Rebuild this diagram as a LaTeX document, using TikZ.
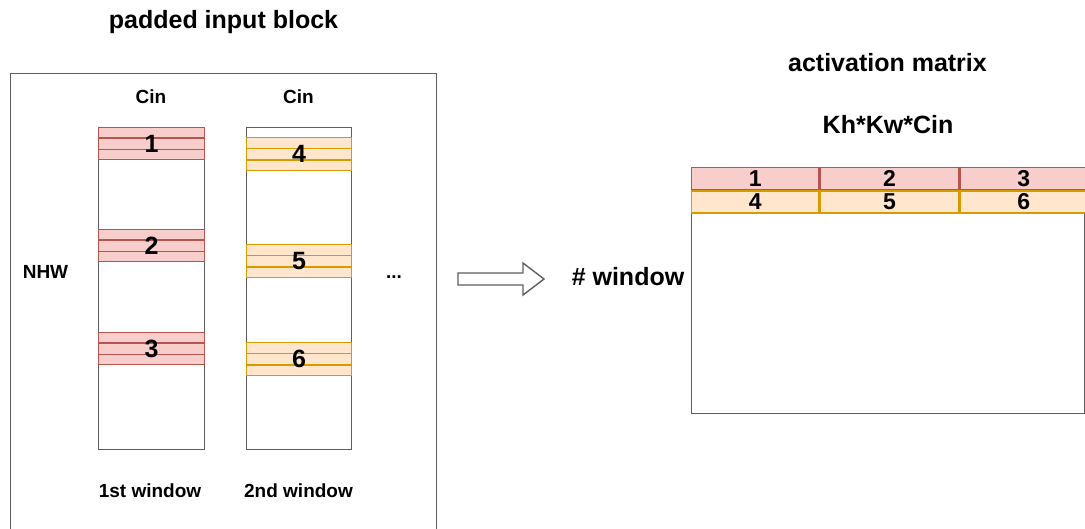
\documentclass[tikz,border=0pt]{standalone}
\usepackage{fontspec}
\setmainfont{Liberation Sans}
\usetikzlibrary{calc, positioning}
\definecolor{bandred}{HTML}{F8CECC}
\definecolor{linered}{HTML}{B85450}
\definecolor{bandyel}{HTML}{FFE6CC}
\definecolor{lineyel}{HTML}{D79B00}
\definecolor{boxgray}{HTML}{5E5E5E}
\newcommand{\fs}[1]{\fontsize{#1}{#1}\selectfont\bfseries}

\tikzset{
	box/.style={draw=boxgray, line width=1.4pt, inner sep=0pt},
	redband/.style={draw=linered, fill=bandred, line width=1.3pt, minimum width=106, minimum height=32, inner sep=0pt},
	yelband/.style={draw=lineyel, fill=bandyel, line width=1.3pt, minimum width=106, minimum height=33, inner sep=0pt},
	redcell/.style={redband, minimum height=22, font=\fs{23}},
	yelcell/.style={yelband, minimum height=22, font=\fs{23}},
	num/.style={font=\fs{25}, inner sep=0pt},
	lbl/.style={anchor=base, inner sep=0pt}
}

\begin{document}
\begin{tikzpicture}[x=1pt, y=-1pt]
	\useasboundingbox (0,0) rectangle (1085,528);
	\node[lbl, font=\fs{25}] (title) at (223.5,28) {padded input block};
	\node[box, minimum width=426, minimum height=470, anchor=north west] (blk) at (10,73) {};
	\node[box, minimum width=106, minimum height=322, anchor=north west] (win1) at (98,127) {};
	\node[box, minimum width=105, minimum height=322, anchor=north west] (win2) at (246,127) {};
	\node[lbl, font=\fs{19}] (cin1) at (151,103) {Cin};
	\node[lbl, font=\fs{19}] (cin2) at (298.5,103) {Cin};
	\node[lbl, font=\fs{19}] (nhw) at (45.5,278) {NHW};
	\node[lbl, font=\fs{19}] (dots) at (394,278) {...};
	\node[lbl, font=\fs{19}] (w1) at (150,497) {1st window};
	\node[lbl, font=\fs{19}] (w2) at (298.5,497) {2nd window};

	\foreach \n/\y in {1/127, 2/229, 3/332} {
		\node[redband, anchor=north west] (band\n) at (98,\y) {};
		\foreach \f in {1/3, 2/3} {
			\draw[linered, line width=1.3pt] ($(band\n.north west)!\f!(band\n.south west)$) -- ($(band\n.north east)!\f!(band\n.south east)$);
		}
		\node[num] at (band\n) {\n};
	}
	\foreach \n/\y in {4/137, 5/244, 6/342} {
		\node[yelband, minimum width=105, anchor=north west] (band\n) at (246,\y) {};
		\foreach \f in {1/3, 2/3} {
			\draw[lineyel, line width=1.3pt] ($(band\n.north west)!\f!(band\n.south west)$) -- ($(band\n.north east)!\f!(band\n.south east)$);
		}
		\node[num] at (band\n) {\n};
	}

	\draw[box, fill=white] (458,273) -- (523,273) -- (523,263) -- (544,279) -- (523,295) -- (523,285) -- (458,285) -- cycle;

	\node[lbl, font=\fs{25}] (nwin) at (628,285) {\# window};
	\node[lbl, font=\fs{25}] (actm) at (887.5,71) {activation matrix};
	\node[lbl, font=\fs{25}] (kkc) at (888,133) {Kh*Kw*Cin};
	\node[box, minimum width=393, minimum height=246, anchor=north west] (mat) at (691,167) {};
	\node[redcell, minimum width=127, anchor=north west] (c1) at (691,167) {1};
	\node[redcell, minimum width=139, right=0pt of c1] (c2) {2};
	\node[redcell, minimum width=127, right=0pt of c2] (c3) {3};
	\node[yelcell, minimum width=127, below=0pt of c1] (c4) {4};
	\node[yelcell, minimum width=139, below=0pt of c2] (c5) {5};
	\node[yelcell, minimum width=127, below=0pt of c3] (c6) {6};
\end{tikzpicture}
\end{document}
